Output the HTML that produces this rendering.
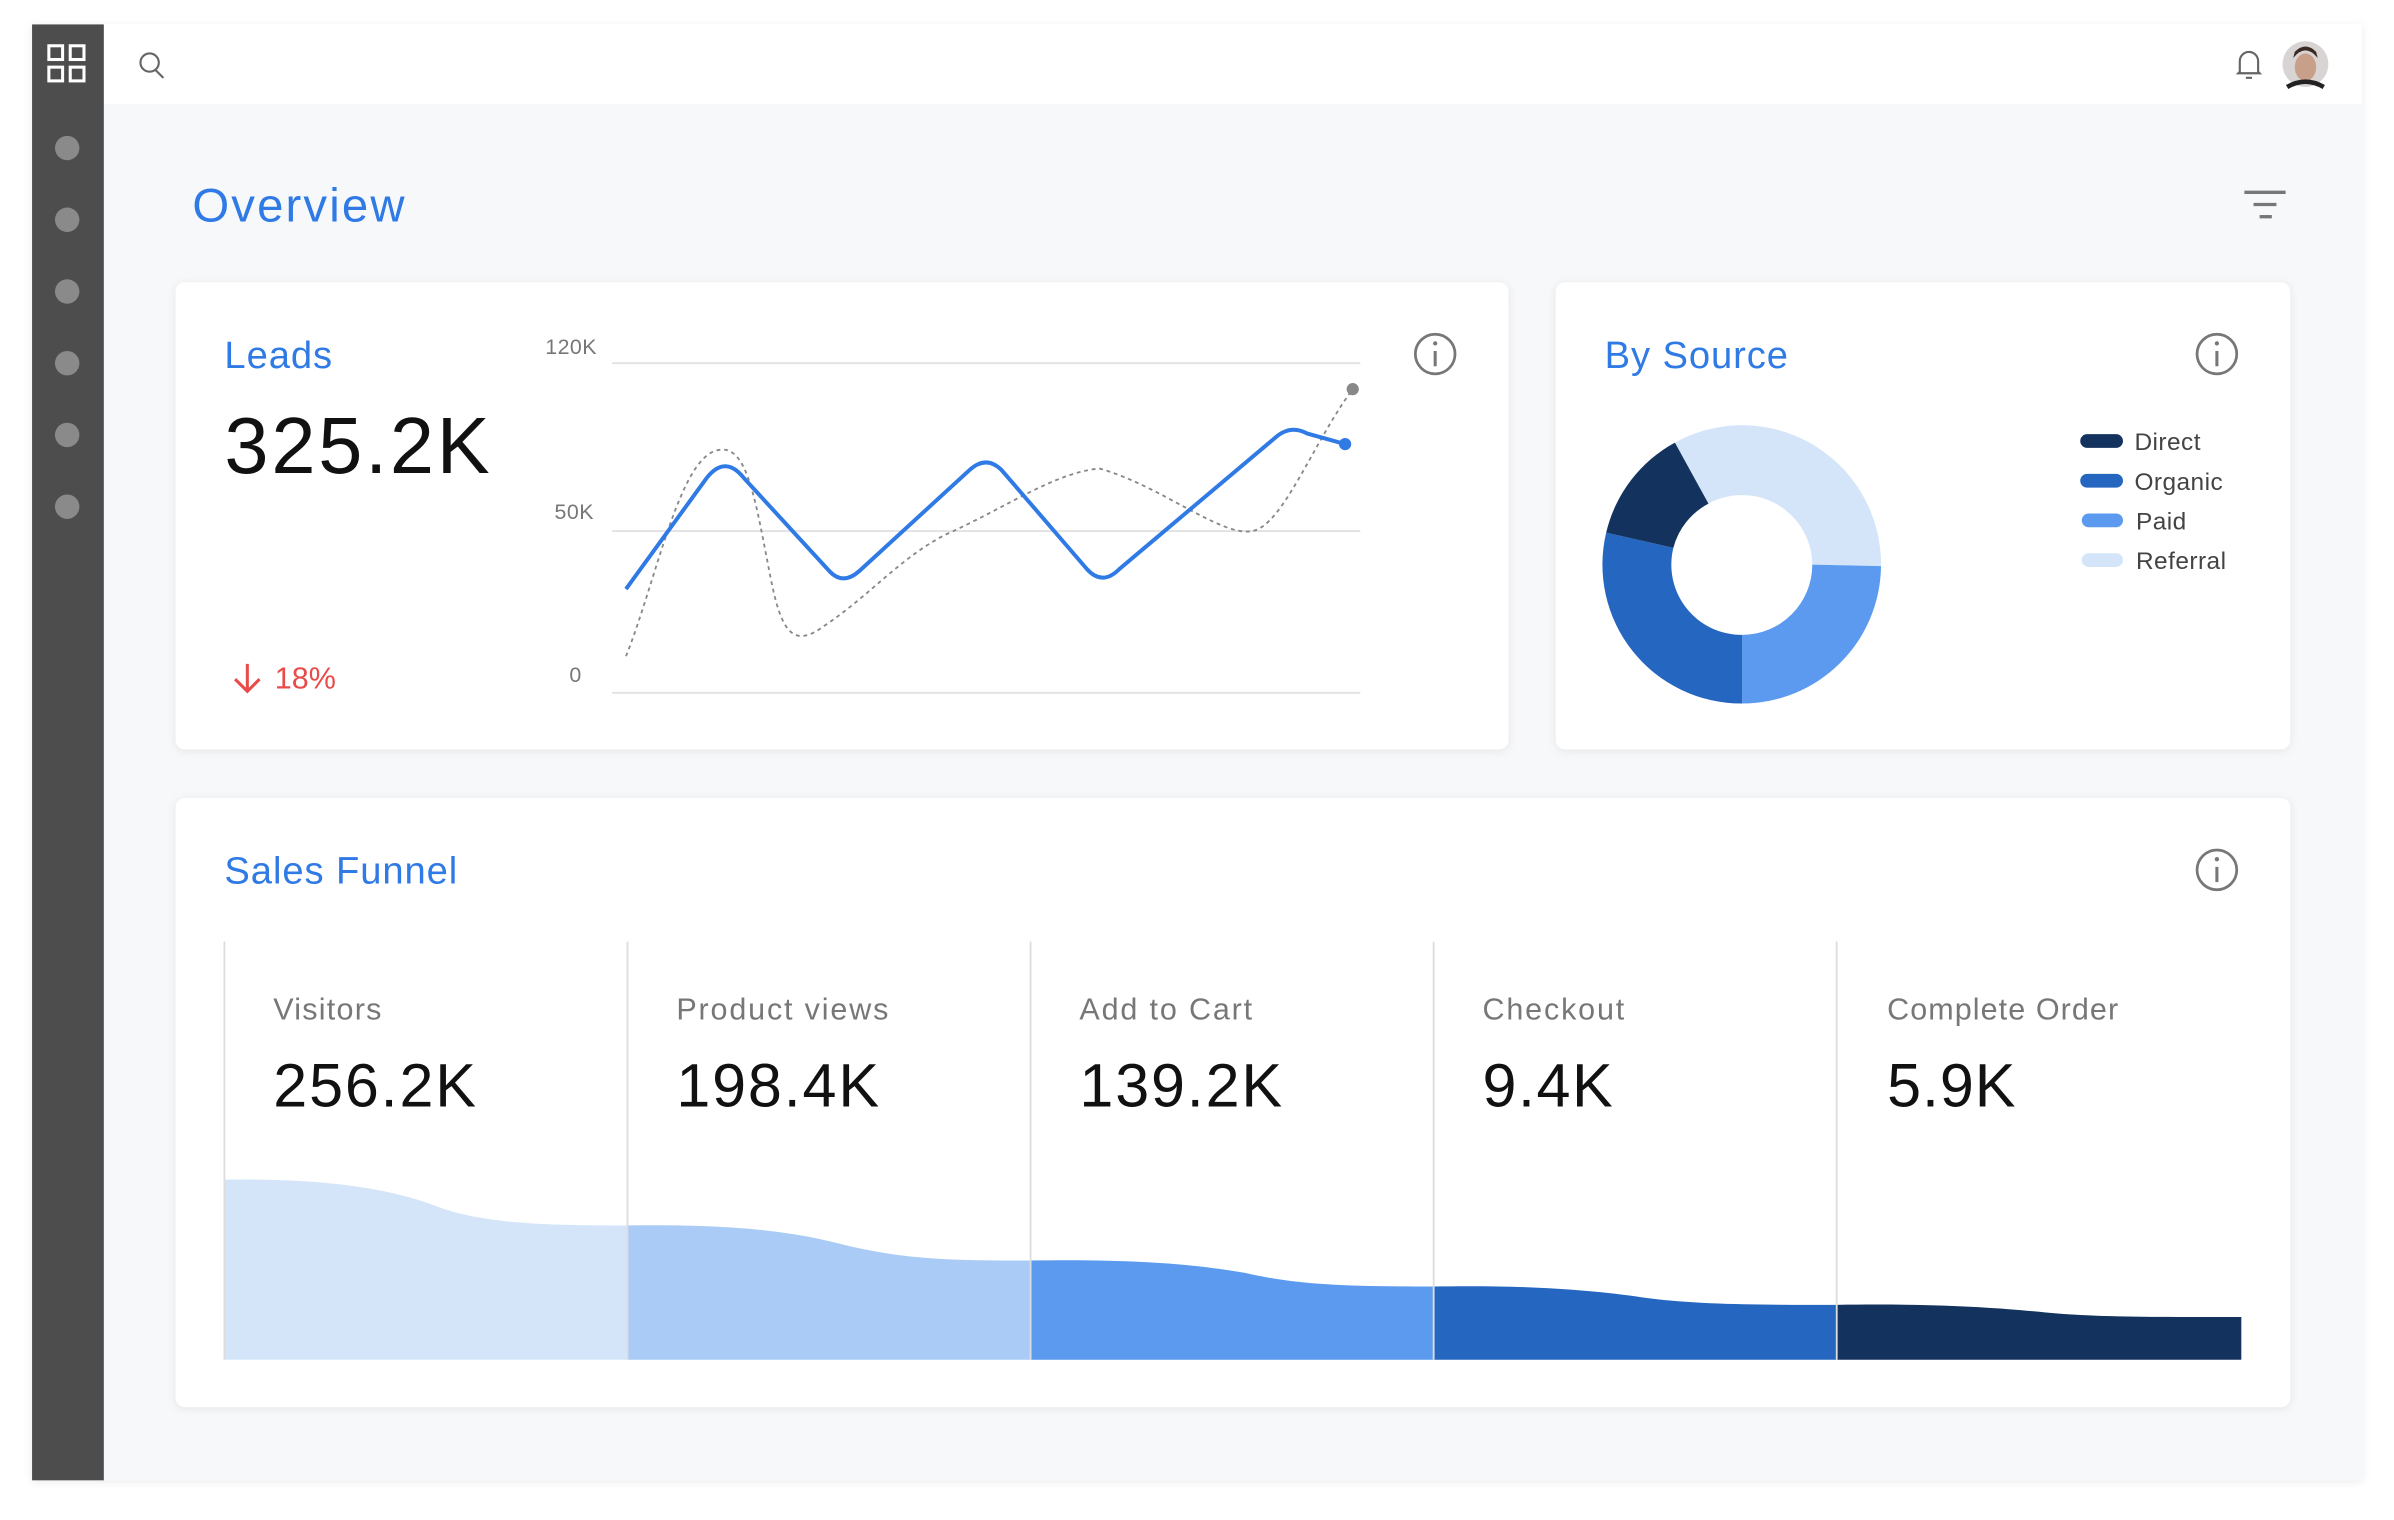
<!DOCTYPE html>
<html><head><meta charset="utf-8"><style>html,body{margin:0;padding:0;background:#fff}svg{display:block}text{font-family:"Liberation Sans",sans-serif}</style></head>
<body>
<svg width="2394" height="1520" viewBox="0 0 1568 996" preserveAspectRatio="none" xmlns="http://www.w3.org/2000/svg">
<defs>
<filter id="sh" x="-5%" y="-5%" width="110%" height="110%"><feDropShadow dx="0" dy="1" stdDeviation="3" flood-color="#000" flood-opacity="0.08"/></filter>
</defs>
<rect x="21" y="16" width="1526" height="954" fill="#f7f8fa" filter="url(#sh)"/>
<rect x="68" y="16" width="1479" height="52" fill="#fff"/>
<rect x="21" y="16" width="47" height="954" fill="#4d4d4d"/>
<g fill="none" stroke="#fff" stroke-width="2">
<rect x="32" y="30" width="9" height="9"/><rect x="46" y="30" width="9" height="9"/>
<rect x="32" y="44" width="9" height="9"/><rect x="46" y="44" width="9" height="9"/>
</g>
<g fill="#8a8a8a">
<circle cx="44" cy="97" r="8"/><circle cx="44" cy="144" r="8"/><circle cx="44" cy="191" r="8"/>
<circle cx="44" cy="238" r="8"/><circle cx="44" cy="285" r="8"/><circle cx="44" cy="332" r="8"/>
</g>
<g fill="none" stroke="#666" stroke-width="1.4">
<circle cx="98" cy="41" r="6"/><line x1="102" y1="46" x2="107" y2="51"/>
<path d="M1467 47 L1467 40 A6 6 0 0 1 1479 40 L1479 47 L1480 48 L1466 48 Z"/><line x1="1471" y1="51" x2="1475" y2="51"/>
</g>
<circle cx="1510" cy="42" r="15" fill="#d9d4d4"/>
<ellipse cx="1510" cy="44" rx="7" ry="9" fill="#c8a08a"/>
<path d="M1502 38 Q1510 28 1518 38 L1517 34 Q1510 27 1503 34Z" fill="#3a2a22"/>
<path d="M1498 57 Q1510 50 1522 57" stroke="#222" stroke-width="3" fill="none"/>
<text x="126" y="145" font-size="31" fill="#2f7ae5" letter-spacing="1.4">Overview</text>
<g stroke="#777" stroke-width="2.2"><line x1="1470" y1="126" x2="1497" y2="126"/><line x1="1476" y1="134" x2="1491" y2="134"/><line x1="1480" y1="142" x2="1488" y2="142"/></g>

<rect x="115" y="185" width="873" height="306" rx="6" fill="#fff" filter="url(#sh)"/>
<rect x="1019" y="185" width="481" height="306" rx="6" fill="#fff" filter="url(#sh)"/>
<rect x="115" y="523" width="1385" height="399" rx="6" fill="#fff" filter="url(#sh)"/>

<g fill="none" stroke="#777" stroke-width="1.8">
<circle cx="940" cy="232" r="13"/><circle cx="1452" cy="232" r="13"/><circle cx="1452" cy="570" r="13"/>
</g>
<g stroke="#777" stroke-width="2"><line x1="940" y1="230" x2="940" y2="240"/><line x1="1452" y1="230" x2="1452" y2="240"/><line x1="1452" y1="568" x2="1452" y2="578"/></g>
<g fill="#777"><circle cx="940" cy="225" r="1.4"/><circle cx="1452" cy="225" r="1.4"/><circle cx="1452" cy="563" r="1.4"/></g>

<text x="147" y="241" font-size="25" fill="#2f7ae5" letter-spacing="0.6">Leads</text>
<text x="147" y="310" font-size="52" fill="#111" letter-spacing="1.8">325.2K</text>
<path d="M162 435 L162 453 M154 445 L162 453 L170 445" stroke="#e94b4b" stroke-width="2" fill="none"/>
<text x="180" y="451" font-size="20" fill="#e94b4b">18%</text>

<g font-size="14" fill="#777" text-anchor="end" letter-spacing="0.3">
<text x="391" y="232">120K</text><text x="389" y="340">50K</text><text x="381" y="447">0</text>
</g>
<g stroke="#e2e2e2" stroke-width="1.2"><line x1="401" y1="238" x2="891" y2="238"/><line x1="401" y1="348" x2="891" y2="348"/><line x1="401" y1="454" x2="891" y2="454"/></g>
<path d="M410 430 C430 380 445 300 470 295 C490 290 495 330 505 380 C512 415 520 425 540 410 C570 390 590 365 620 350 C660 332 690 310 720 307 C760 318 800 352 820 348 C840 345 860 290 886 255" fill="none" stroke="#888" stroke-width="1.2" stroke-dasharray="2.5 2.5"/>
<circle cx="886" cy="255" r="4" fill="#888"/>
<path d="M410 386 L463 313 Q475 298 487 313 L543 374 Q552 384 563 374 L635 308 Q646 298 656 308 L712 373 Q722 384 733 373 L835 287 Q845 278 856 284 L881 291" fill="none" stroke="#2f7ae5" stroke-width="2.6" stroke-linejoin="round"/>
<circle cx="881" cy="291" r="4" fill="#2f7ae5"/>

<text x="1051" y="241" font-size="25" fill="#2f7ae5" letter-spacing="0.6">By Source</text>
<g transform="translate(1141,370)">
<path d="M-44,-80 A91 91 0 0 1 91,1 L46,0 A46 46 0 0 0 -22,-40Z" fill="#d4e5fa"/>
<path d="M91,1 A91 91 0 0 1 0,91 L0,46 A46 46 0 0 0 46,0Z" fill="#5b9aef"/>
<path d="M0,91 A91 91 0 0 1 -89,-21 L-45,-11 A46 46 0 0 0 0,46Z" fill="#2566c0"/>
<path d="M-89,-21 A91 91 0 0 1 -44,-80 L-22,-40 A46 46 0 0 0 -45,-11Z" fill="#14325e"/>
</g>
<g stroke-width="9" stroke-linecap="round">
<line x1="1367" y1="289" x2="1386" y2="289" stroke="#14325e"/>
<line x1="1367" y1="315" x2="1386" y2="315" stroke="#2566c0"/>
<line x1="1368" y1="341" x2="1386" y2="341" stroke="#5b9aef"/>
<line x1="1368" y1="367" x2="1386" y2="367" stroke="#d4e5fa"/>
</g>
<g font-size="16" fill="#444" letter-spacing="0.3">
<text x="1398" y="295">Direct</text><text x="1398" y="321">Organic</text><text x="1399" y="347">Paid</text><text x="1399" y="373">Referral</text>
</g>

<text x="147" y="579" font-size="25" fill="#2f7ae5" letter-spacing="0.6">Sales Funnel</text>
<path d="M147 773 C220 772 260 780 290 792 C320 802 360 803 411 803 L411 891 L147 891Z" fill="#d4e5fa"/>
<path d="M411 803 C480 802 520 807 550 815 C590 825 620 826 675 826 L675 891 L411 891Z" fill="#a9cbf5"/>
<path d="M675 826 C740 825 780 828 815 834 C850 842 880 843 939 843 L939 891 L675 891Z" fill="#5b9aef"/>
<path d="M939 843 C1000 842 1040 845 1075 850 C1110 855 1150 855 1203 855 L1203 891 L939 891Z" fill="#2566c0"/>
<path d="M1203 855 C1270 854 1310 857 1340 860 C1370 863 1410 863 1468 863 L1468 891 L1203 891Z" fill="#14325e"/>
<g stroke="#ddd" stroke-width="1.2">
<line x1="147" y1="617" x2="147" y2="891"/><line x1="411" y1="617" x2="411" y2="891"/><line x1="675" y1="617" x2="675" y2="891"/><line x1="939" y1="617" x2="939" y2="891"/><line x1="1203" y1="617" x2="1203" y2="891"/>
</g>
<g font-size="20" fill="#777">
<text x="179" y="668" letter-spacing="0.8">Visitors</text><text x="443" y="668" letter-spacing="1.2">Product views</text><text x="707" y="668" letter-spacing="1.2">Add to Cart</text><text x="971" y="668" letter-spacing="1.2">Checkout</text><text x="1236" y="668" letter-spacing="0.7">Complete Order</text>
</g>
<g font-size="40" fill="#111">
<text x="179" y="725" letter-spacing="1.2">256.2K</text><text x="443" y="725" letter-spacing="1.2">198.4K</text><text x="707" y="725" letter-spacing="1.2">139.2K</text><text x="971" y="725" letter-spacing="1">9.4K</text><text x="1236" y="725" letter-spacing="0.6">5.9K</text>
</g>
</svg>
</body></html>
